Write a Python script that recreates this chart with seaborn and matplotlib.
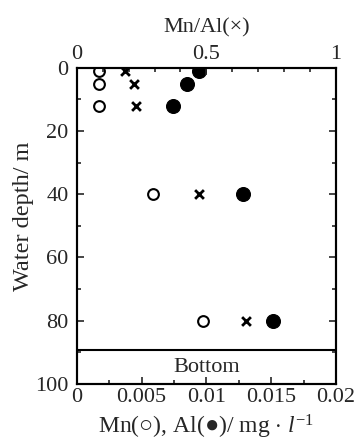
import matplotlib
matplotlib.use("Agg")
import matplotlib.pyplot as plt
import seaborn as sns
import pandas as pd
from matplotlib.ticker import MultipleLocator

depth = [1, 5, 12, 40, 80]
mn = [0.0017, 0.0017, 0.0017, 0.0059, 0.0097]
al = [0.0094, 0.0085, 0.0074, 0.0128, 0.0151]
mn_al = [0.188, 0.22, 0.227, 0.471, 0.654]
bottom_depth = 89.3

df = pd.DataFrame({"depth": depth, "Mn": mn, "Al": al, "MnAl": mn_al})

sns.set_theme(style="ticks")
plt.rcParams["font.family"] = ["Liberation Serif", "DejaVu Serif"]
plt.rcParams["mathtext.fontset"] = "custom"
plt.rcParams["mathtext.rm"] = "Liberation Serif"
plt.rcParams["mathtext.it"] = "Liberation Serif:italic"

fig = plt.figure(figsize=(3.61, 4.44), dpi=100)
ax = fig.add_axes([0.2125, 0.1351, 0.7185, 0.7124])

sns.scatterplot(data=df, x="Mn", y="depth", ax=ax, marker="o", s=60,
                facecolor="white", edgecolor="black", linewidth=1.5, zorder=3)
sns.scatterplot(data=df, x="Al", y="depth", ax=ax, marker="o", s=100,
                color="black", edgecolor="black", zorder=3)

ax.set_xlim(0, 0.02)
ax.set_ylim(100, 0)
ax.axhline(bottom_depth, color="black", lw=1.5)
ax.text(0.01, (bottom_depth + 100) / 2, "Bottom", ha="center", va="center", fontsize=16)

ax.set_xticks([0, 0.005, 0.01, 0.015, 0.02])
ax.set_xticklabels(["0", "0.005", "0.01", "0.015", "0.02"])
ax.xaxis.set_minor_locator(MultipleLocator(0.0025))
ax.yaxis.set_major_locator(MultipleLocator(20))
ax.yaxis.set_minor_locator(MultipleLocator(10))
ax.tick_params(which="both", direction="in", right=True, labelsize=16)
ax.tick_params(axis="x", pad=3)
ax.tick_params(axis="y", pad=6)
ax.tick_params(which="major", length=5, width=1.2)
ax.tick_params(which="minor", length=3, width=1.2)
ax.set_xlabel(r"Mn(○), Al(●)/ mg $\cdot$ $\it{l}^{-1}$", fontsize=17, labelpad=4)
ax.set_ylabel("Water depth/ m", fontsize=17.5)
ax.yaxis.set_label_coords(-0.163, 0.53)

ax2 = ax.twiny()
sns.scatterplot(data=df, x="MnAl", y="depth", ax=ax2, marker="x", s=40,
                color="black", linewidth=2, zorder=3)
ax2.set_xlim(0, 1)
ax2.set_ylim(100, 0)
ax2.set_xticks([0, 0.5, 1])
ax2.set_xticklabels(["0", "0.5", "1"])
ax2.xaxis.set_minor_locator(MultipleLocator(0.1))
ax2.tick_params(which="both", direction="in", labelsize=16, pad=3)
ax2.tick_params(which="major", length=5, width=1.2)
ax2.tick_params(which="minor", length=3, width=1.2)
ax2.set_xlabel("Mn/Al(×)", fontsize=16, labelpad=9)

for a in (ax, ax2):
    for sp in a.spines.values():
        sp.set_linewidth(1.5)
        sp.set_color("black")

fig.savefig("out.png", dpi=100)
